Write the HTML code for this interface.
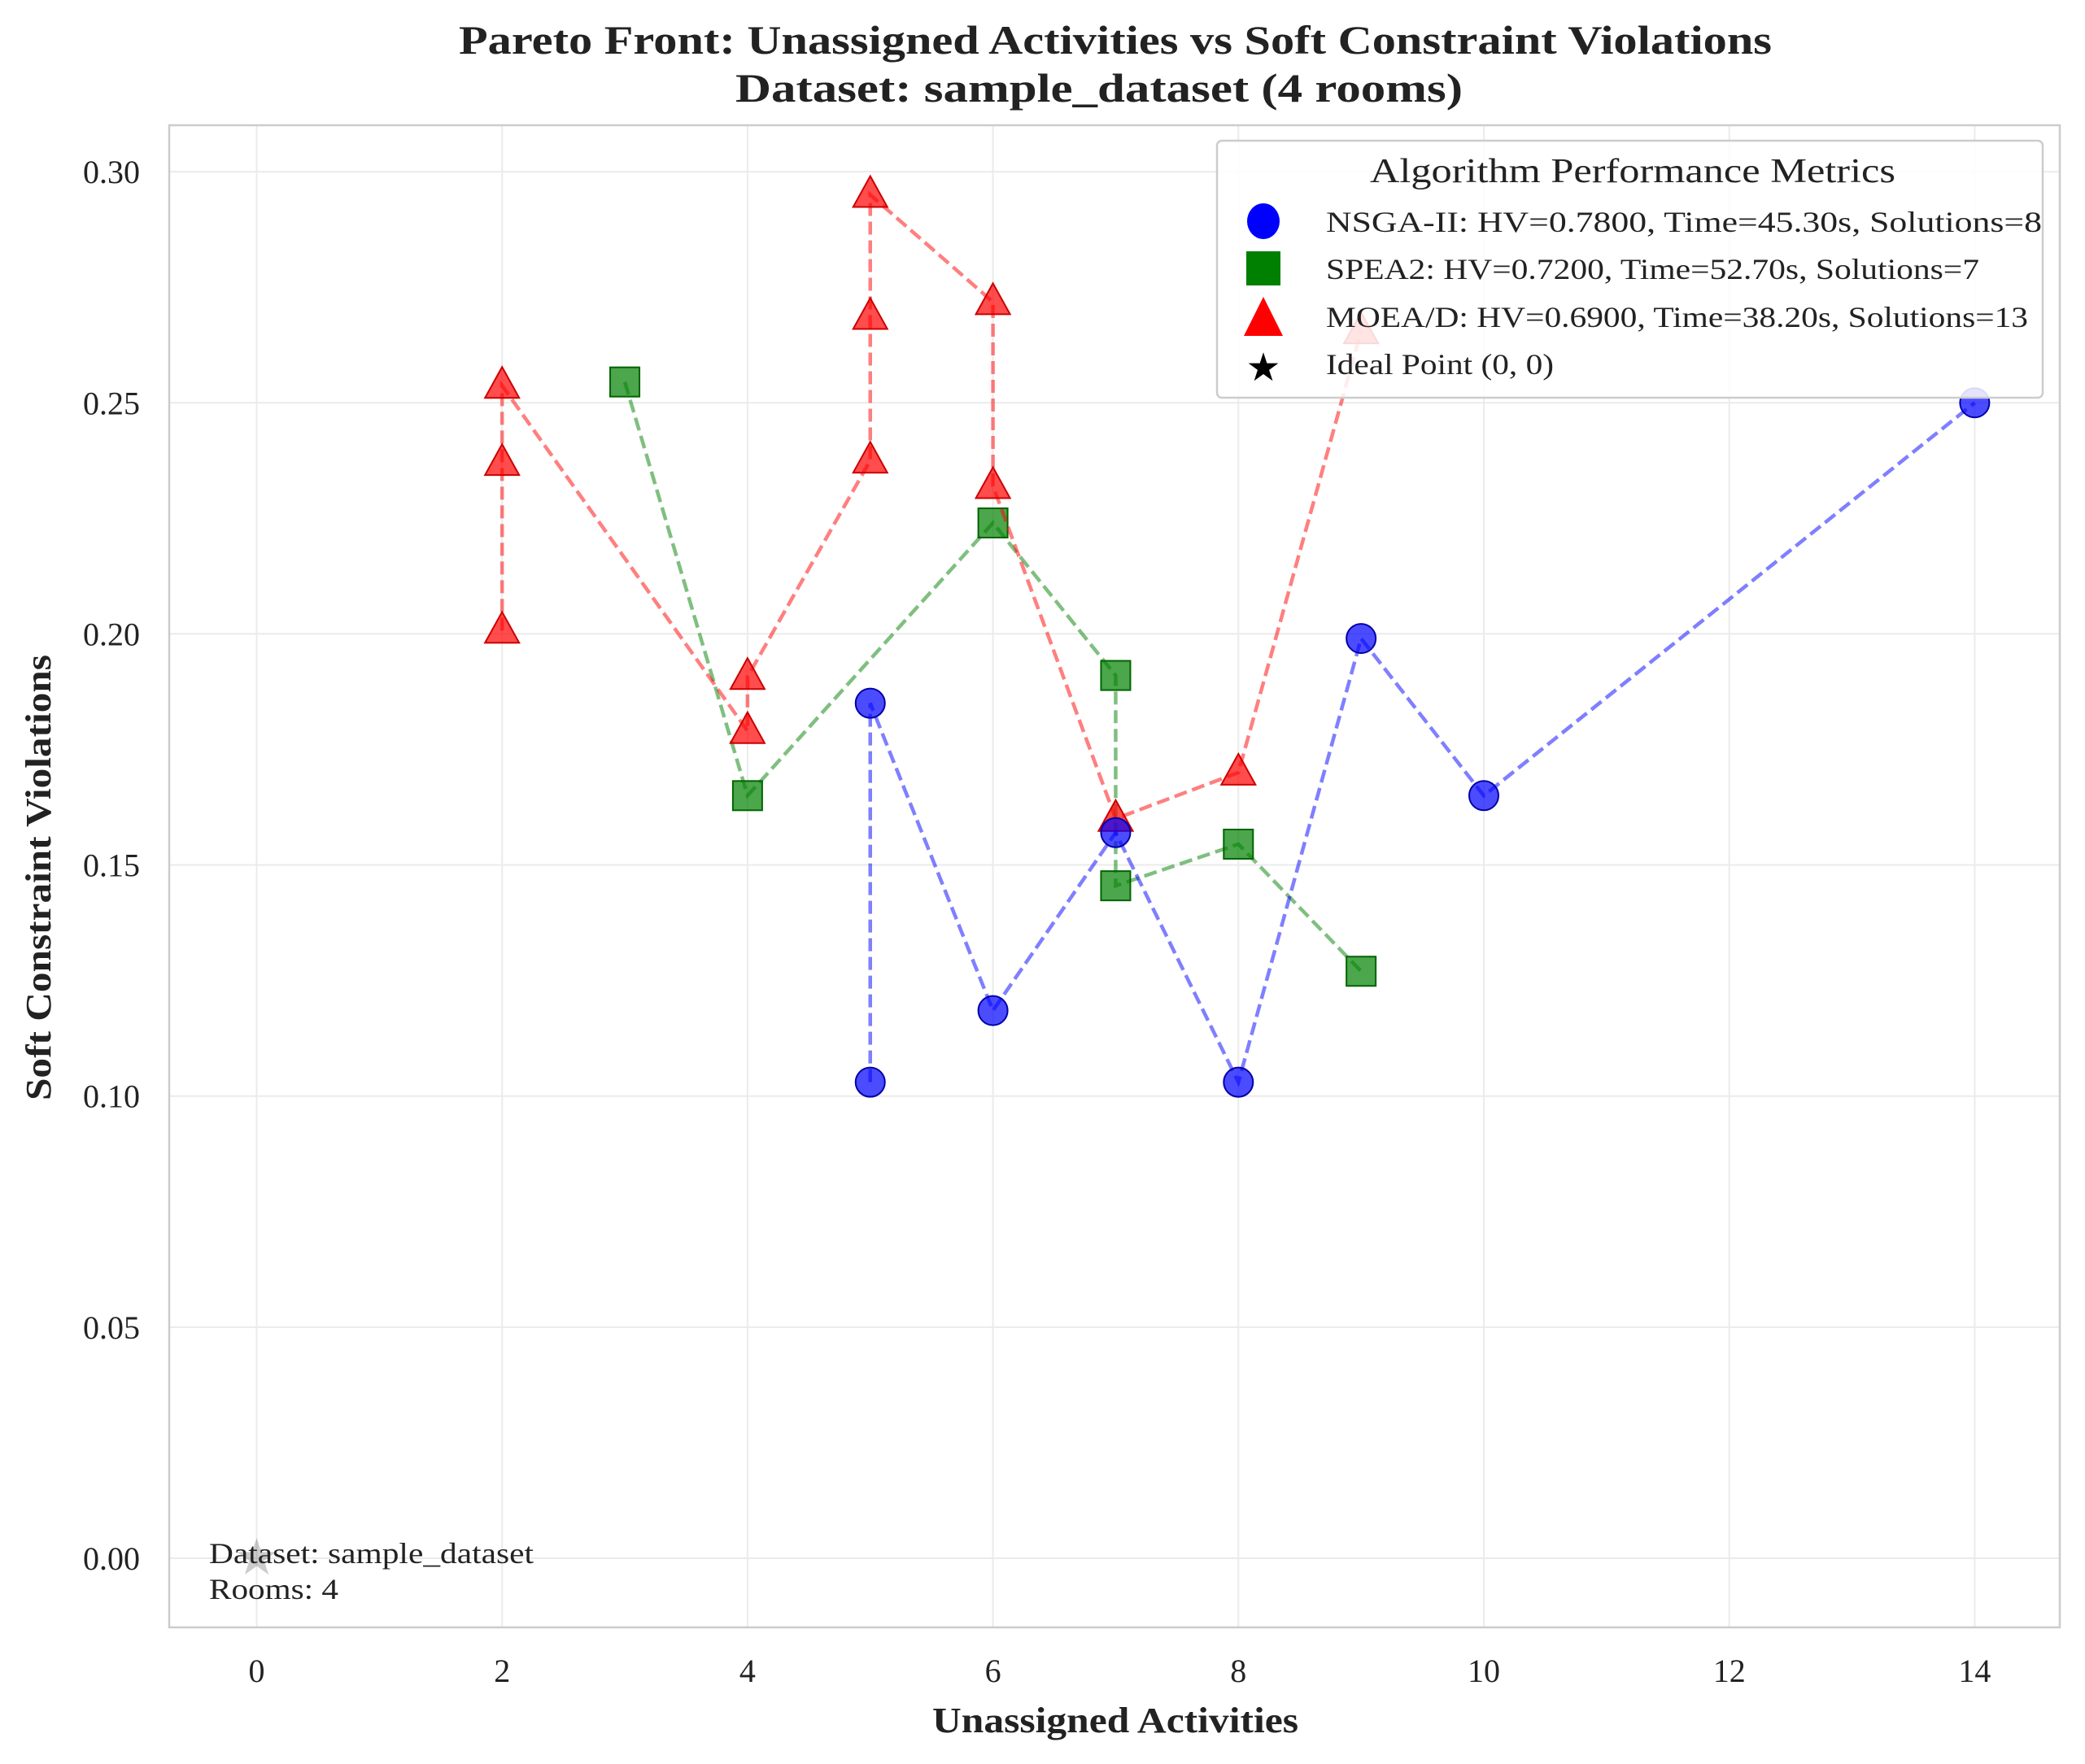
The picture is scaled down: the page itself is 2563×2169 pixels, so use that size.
<!DOCTYPE html>
<html><head><meta charset="utf-8"><style>
body{margin:0;background:#fff}
svg{display:block;font-family:"Liberation Serif","DejaVu Serif",serif}
</style></head><body>
<svg id="chart" width="2563" height="2169" viewBox="0 0 2563 2169" xmlns="http://www.w3.org/2000/svg">
<rect width="2563" height="2169" fill="#fff"/>
<g id="grid"></g>
<g id="series"></g>
<rect x="208" y="154" width="2324" height="1847" fill="none" stroke="#ccc" stroke-width="2.5"/>
<g id="ticks"></g>
<text x="564" y="66" textLength="1614" lengthAdjust="spacingAndGlyphs" font-size="50" font-weight="bold" fill="#222">Pareto Front: Unassigned Activities vs Soft Constraint Violations</text>
<text x="904" y="125" textLength="894" lengthAdjust="spacingAndGlyphs" font-size="50" font-weight="bold" fill="#222">Dataset: sample_dataset (4 rooms)</text>
<text x="1146" y="2130" textLength="450" lengthAdjust="spacingAndGlyphs" font-size="44" font-weight="bold" fill="#222">Unassigned Activities</text>
<text transform="translate(62,1353) rotate(-90)" textLength="548" lengthAdjust="spacingAndGlyphs" font-size="44" font-weight="bold" fill="#222">Soft Constraint Violations</text>
<text x="257" y="1922" textLength="399" lengthAdjust="spacingAndGlyphs" font-size="36" fill="#222">Dataset: sample_dataset</text>
<text x="257" y="1966" textLength="159" lengthAdjust="spacingAndGlyphs" font-size="36" fill="#222">Rooms: 4</text>
<g>
<rect x="1496" y="173" width="1015" height="316" rx="6" fill="#fff" fill-opacity="0.85" stroke="#ccc" stroke-width="2.5"/>
<text x="1684" y="224" textLength="646" lengthAdjust="spacingAndGlyphs" font-size="42" fill="#222">Algorithm Performance Metrics</text>
<g><ellipse cx="1553" cy="272" rx="20" ry="22" fill="#0000ff"/><text x="1630" y="285" textLength="880" lengthAdjust="spacingAndGlyphs" font-size="36" fill="#222">NSGA-II: HV=0.7800, Time=45.30s, Solutions=8</text></g>
<g><rect x="1532" y="309" width="42" height="42" fill="#008000"/><text x="1630" y="343" textLength="803" lengthAdjust="spacingAndGlyphs" font-size="36" fill="#222">SPEA2: HV=0.7200, Time=52.70s, Solutions=7</text></g>
<g><polygon points="1553,365 1577,413 1529,413" fill="#ff0000"/><text x="1630" y="402" textLength="863" lengthAdjust="spacingAndGlyphs" font-size="36" fill="#222">MOEA/D: HV=0.6900, Time=38.20s, Solutions=13</text></g>
<g><text x="1553" y="468" text-anchor="middle" font-size="48" fill="#000">★</text><text x="1630" y="460" textLength="280" lengthAdjust="spacingAndGlyphs" font-size="36" fill="#222">Ideal Point (0, 0)</text></g>
</g>
</svg>
<script>
const xTicks=[0,2,4,6,8,10,12,14];
const yTicks=[0,0.05,0.10,0.15,0.20,0.25,0.30];
const yTickLabels=["0.00","0.05","0.10","0.15","0.20","0.25","0.30"];
const nsgaX=[5,5,6,7,8,9,10,14];
const nsgaY=[0.103,0.185,0.1185,0.157,0.103,0.199,0.165,0.250];
const speaX=[3,4,6,7,7,8,9];
const speaY=[0.2545,0.165,0.224,0.191,0.1455,0.1545,0.127];
const moeaX=[2,2,2,4,4,5,5,5,6,6,7,8,9];
const moeaY=[0.2007,0.237,0.2537,0.179,0.1907,0.2375,0.2686,0.295,0.2718,0.232,0.160,0.170,0.2655];
const idealX=[0], idealY=[0];
const NS="http://www.w3.org/2000/svg";
const sx=v=>315.5+v*150.85;
const sy=v=>1916-v*5683;
function mk(tag,attrs,parent){const e=document.createElementNS(NS,tag);for(const k in attrs)e.setAttribute(k,attrs[k]);parent.appendChild(e);return e;}
const grid=document.getElementById('grid'),ticks=document.getElementById('ticks'),series=document.getElementById('series');
xTicks.forEach(t=>{
 const l=mk('line',{x1:sx(t),x2:sx(t),y1:154,y2:2001,stroke:'#ebebeb','stroke-width':2},grid);
 
 
 const tx=mk('text',{x:sx(t),y:2068,'text-anchor':'middle','font-size':40,fill:'#222'},ticks);
 tx.textContent=t;
 
 
});
yTicks.forEach((t,i)=>{
 const l=mk('line',{x1:208,x2:2532,y1:sy(t),y2:sy(t),stroke:'#ebebeb','stroke-width':2},grid);
 
 
 const tx=mk('text',{x:172,y:sy(t)+14,'text-anchor':'end','font-size':40,fill:'#222'},ticks);
 tx.textContent=yTickLabels[i];
 
 
});
function drawSeries(xs,ys,color,edge,shape,name){
 const pts=xs.map((x,i)=>sx(x)+','+sy(ys[i])).join(' ');
 const pl=mk('polyline',{points:pts,fill:'none',stroke:color,'stroke-opacity':0.5,'stroke-width':4.5,'stroke-dasharray':'16,7'},series);
 
 
 xs.forEach((x,i)=>{
  const cx=sx(x),cy=sy(ys[i]);let m;
  if(shape==='circle')m=mk('circle',{cx:cx,cy:cy,r:18},series);
  else if(shape==='square')m=mk('rect',{x:cx-18,y:cy-18,width:36,height:36},series);
  else m=mk('polygon',{points:`${cx},${cy-23} ${cx+21},${cy+15} ${cx-21},${cy+15}`},series);
  m.setAttribute('fill',color);m.setAttribute('fill-opacity',0.7);m.setAttribute('stroke',edge);m.setAttribute('stroke-width',2);
  
  
 });
}
drawSeries(speaX,speaY,'#008000','#006400','square','spea2');
drawSeries(moeaX,moeaY,'#ff0000','#cc0000','triangle','moead');
drawSeries(nsgaX,nsgaY,'#0000ff','#0000aa','circle','nsga2');
idealX.forEach((x,i)=>{
 const s=mk('text',{x:sx(x),y:sy(idealY[i])+20,'text-anchor':'middle','font-size':62,fill:'#000','fill-opacity':0.2},series);
 s.textContent='★';
 
 
});
</script>
</body></html>
